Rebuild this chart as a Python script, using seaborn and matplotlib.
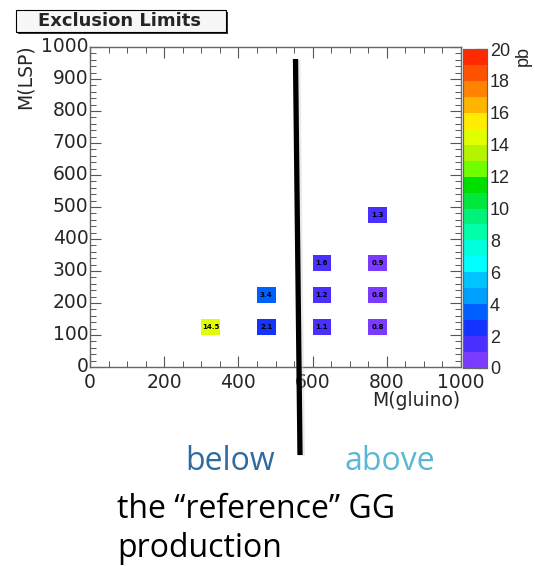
import numpy as np
import pandas as pd
import matplotlib
matplotlib.use("Agg")
import matplotlib.pyplot as plt
from matplotlib.colors import ListedColormap
from matplotlib.lines import Line2D
from matplotlib.patches import Rectangle
import seaborn as sns

# ---- data ----
m_gluino = [325, 475, 475, 625, 625, 625, 775, 775, 775, 775]
m_lsp    = [125, 125, 225, 125, 225, 325, 125, 225, 325, 475]
xsec_pb  = [14.5, 2.1, 3.4, 1.1, 1.2, 1.6, 0.8, 0.8, 0.9, 1.3]
x_ticks = [0, 200, 400, 600, 800, 1000]
y_ticks = [0, 100, 200, 300, 400, 500, 600, 700, 800, 900, 1000]
z_ticks = [0, 2, 4, 6, 8, 10, 12, 14, 16, 18, 20]
bin_width = 50
axis_max = 1000

palette = ["#7B3AFF", "#4A30FF", "#1533FF", "#0060FF", "#00A0FF",
           "#00C4FF", "#00FFFF", "#00FFDC", "#00FFA8", "#00F27A",
           "#00E83C", "#00E000", "#70FF00", "#B4F400", "#E2FF00",
           "#FFEC00", "#FFB400", "#FF8200", "#FF5200", "#FF2A00"]

sns.set_style("white")
plt.rcParams["font.family"] = ["DejaVu Sans"]

# build 2D histogram grid
nb = axis_max // bin_width
centers = np.arange(nb) * bin_width + bin_width / 2
grid = pd.DataFrame(np.nan, index=centers, columns=centers)
for gx, ly, v in zip(m_gluino, m_lsp, xsec_pb):
    grid.loc[ly, gx] = v

fig = plt.figure(figsize=(5.35, 5.66), dpi=100)
W, H = 535, 566
def fr(l, t, r, b):
    return [l / W, 1 - b / H, (r - l) / W, (b - t) / H]

ax = fig.add_axes(fr(90, 47, 461, 367))
cax = fig.add_axes(fr(463, 49, 487, 368))

cmap = ListedColormap(palette)
sns.heatmap(grid, ax=ax, cbar_ax=cax, cmap=cmap, vmin=0, vmax=20,
            annot=True, fmt=".1f",
            annot_kws=dict(fontsize=5, fontweight="bold", color="black"),
            linewidths=0)
ax.invert_yaxis()
ax.set_xlim(0, nb)
ax.set_ylim(0, nb)

scale = nb / axis_max
ax.set_xticks([t * scale for t in x_ticks])
ax.set_xticklabels([str(t) for t in x_ticks], rotation=0, fontsize=13.5)
ax.set_yticks([t * scale for t in y_ticks])
ax.set_yticklabels([str(t) for t in y_ticks], rotation=0, fontsize=13.5)
ax.set_xticks(np.arange(0, axis_max + 1, 50) * scale, minor=True)
ax.set_yticks(np.arange(0, axis_max + 1, 20) * scale, minor=True)
ax.tick_params(which="both", direction="in", top=True, right=True,
               bottom=True, left=True, color="#555555")
ax.tick_params(axis="x", pad=4)
ax.tick_params(axis="y", pad=1)
ax.tick_params(which="major", length=8, width=0.8)
ax.tick_params(which="minor", length=4, width=0.7)
for s in ax.spines.values():
    s.set_visible(True)
    s.set_color("#666666")
    s.set_linewidth(1.0)
ax.set_xlabel("")
ax.set_ylabel("")

fig.text(460 / W, 1 - 400 / H, "M(gluino)", ha="right", va="center", fontsize=13.5)
fig.text(25 / W, 1 - 44 / H, "M(LSP)", ha="center", va="top", rotation=90, fontsize=13.5)

# colorbar
cax.set_yticks(z_ticks)
cax.set_yticklabels([str(t) for t in z_ticks], fontsize=13,
                    family=["Liberation Sans", "DejaVu Sans"])
cax.tick_params(axis="y", direction="in", right=True, length=8, width=0.8,
                color="#333333", pad=2)
cax.yaxis.set_ticks_position("right")
for s in cax.spines.values():
    s.set_visible(True)
    s.set_color("#666666")
    s.set_linewidth(0.8)
fig.text(523 / W, 1 - 46 / H, "pb", ha="center", va="top", rotation=90,
         fontsize=13, family=["Liberation Sans", "DejaVu Sans"])

# title box
fig.patches.append(Rectangle((18 / W, 1 - 34 / H), 210 / W, 22 / H,
                             transform=fig.transFigure, facecolor="#333333",
                             edgecolor="none", zorder=1))
fig.patches.append(Rectangle((16 / W, 1 - 32 / H), 210 / W, 22 / H,
                             transform=fig.transFigure, facecolor="#F7F7F7",
                             edgecolor="black", linewidth=0.8, zorder=2))
fig.text(120 / W, 1 - 21 / H, "Exclusion Limits", ha="center", va="center",
         fontsize=13, fontweight="bold", zorder=3)

# vertical black line
fig.add_artist(Line2D([297 / W, 301.5 / W], [1 - 60 / H, 1 - 456 / H],
                      transform=fig.transFigure, color="#CCCCCC", linewidth=5,
                      solid_capstyle="butt", alpha=0.4, zorder=4))
fig.add_artist(Line2D([295.5 / W, 300 / W], [1 - 59 / H, 1 - 455 / H],
                      transform=fig.transFigure, color="black", linewidth=3.8,
                      solid_capstyle="butt", zorder=5))

# annotation text
tf = ["Open Sans", "DejaVu Sans"]
fs = 23
fig.text(185 / W, 1 - 470 / H, "below", ha="left", va="baseline",
         fontsize=fs, color="#2E6AA0", family=tf)
fig.text(345 / W, 1 - 470 / H, "above", ha="left", va="baseline",
         fontsize=fs, color="#5BB8D4", family=tf)
fig.text(117 / W, 1 - 518 / H, "the \u201creference\u201d GG", ha="left",
         va="baseline", fontsize=fs, color="black", family=tf)
fig.text(117 / W, 1 - 557 / H, "production", ha="left", va="baseline",
         fontsize=fs, color="black", family=tf)

fig.savefig("out.png", dpi=100)
